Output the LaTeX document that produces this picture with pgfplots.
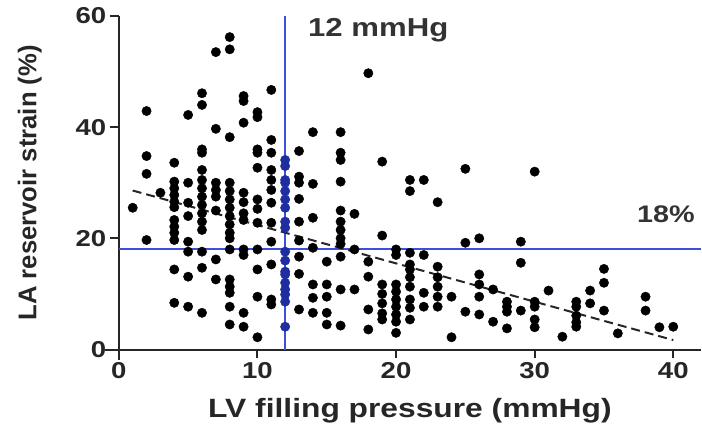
\documentclass[border=0pt]{standalone}
\usepackage{fontspec}
\setmainfont{Liberation Sans}[FakeStretch=1.2]
\newfontfamily\plainsans{Liberation Sans}
\usepackage{pgfplots}
\usepackage{pgfplotstable}
\pgfplotsset{compat=1.18}
\definecolor{refblue}{RGB}{60,80,220}
\definecolor{dotblue}{RGB}{30,45,160}

% patients left and right of the 12 mmHg cut-off
\pgfplotstableread{
x y
1 25.5
2 42.9
2 34.8
2 31.6
2 19.7
3 28.2
4 33.6
4 30.2
4 29.0
4 27.8
4 26.6
4 25.6
4 23.3
4 22.1
4 21.0
4 19.7
4 14.4
4 8.4
5 42.2
5 30.0
5 26.4
5 24.0
5 19.4
5 17.6
5 13.1
5 7.7
6 46.1
6 44.0
6 36.0
6 35.4
6 32.3
6 30.5
6 29.0
6 27.5
6 26.0
6 24.5
6 23.0
6 21.5
6 17.6
6 14.7
6 6.6
7 53.5
7 39.7
7 30.0
7 28.7
7 27.5
7 25.0
7 16.2
7 12.6
8 56.2
8 54.0
8 38.2
8 30.0
8 28.5
8 27.0
8 25.5
8 24.0
8 22.5
8 21.0
8 20.0
8 18.0
8 12.6
8 11.3
8 10.2
8 7.7
8 4.5
9 45.6
9 44.7
9 40.8
9 28.2
9 26.5
9 24.5
9 23.3
9 18.0
9 17.0
9 6.6
9 4.1
10 42.7
10 41.8
10 36.0
10 35.4
10 32.7
10 27.0
10 25.3
10 22.8
10 18.0
10 14.4
10 9.5
10 2.2
11 46.7
11 37.7
11 35.4
11 32.3
11 30.5
11 28.7
11 26.4
11 22.8
11 19.4
11 15.3
11 9.0
11 8.1
13 35.7
13 31.1
13 30.0
13 27.1
13 23.0
13 19.6
13 16.7
13 13.6
13 7.2
14 39.1
14 29.8
14 23.7
14 18.3
14 11.7
14 9.3
14 6.6
15 15.8
15 11.7
15 9.5
15 6.6
15 4.5
16 39.1
16 35.4
16 34.1
16 30.2
16 25.0
16 23.0
16 21.5
16 20.0
16 19.0
16 16.7
16 10.8
16 4.3
17 24.4
17 18.0
17 10.8
18 49.7
18 15.8
18 13.1
18 7.2
18 3.6
19 33.8
19 20.5
19 11.7
19 10.0
19 8.3
19 6.5
19 5.4
20 18.0
20 17.0
20 11.7
20 10.4
20 9.0
20 7.7
20 6.3
20 5.0
20 3.0
21 30.5
21 28.5
21 17.4
21 15.3
21 14.4
21 13.0
21 11.3
21 9.0
21 7.5
21 5.4
22 30.5
22 17.0
22 10.2
22 7.7
23 26.5
23 14.9
23 13.0
23 11.3
23 9.5
23 7.7
24 9.5
24 2.2
25 32.5
25 19.2
25 6.8
26 20.0
26 13.5
26 11.7
26 9.5
26 6.3
27 10.8
27 5.0
28 8.6
28 7.7
28 6.8
28 3.8
29 19.4
29 15.6
29 7.0
30 32.0
30 8.6
30 7.7
30 5.4
30 4.0
31 10.6
32 2.3
33 8.6
33 7.7
33 6.1
33 4.9
33 4.1
34 10.6
34 8.3
35 14.5
35 12.0
35 7.0
36 2.9
38 9.5
38 7.0
39 4.0
40 4.1
}\blackpts

% patients exactly at 12 mmHg
\pgfplotstableread{
x y
12 34.1
12 33.0
12 30.5
12 30.0
12 28.5
12 27.0
12 25.5
12 23.0
12 21.9
12 17.6
12 16.0
12 14.0
12 13.5
12 12.0
12 10.8
12 9.9
12 8.6
12 4.1
}\bluepts

\begin{document}
\begin{tikzpicture}
\begin{axis}[
    scale only axis,
    width=583pt, height=334pt,
    xmin=0, xmax=42, ymin=0, ymax=60,
    axis x line*=bottom, axis y line*=left,
    axis line style={line width=2pt, black!85},
    xtick={0,10,20,30,40}, ytick={0,20,40,60},
    tick align=outside, major tick length=9pt,
    tick style={line width=2pt, black!85},
    /pgf/number format/assume math mode=true,
    ticklabel style={font=\bfseries\fontsize{23}{23}\selectfont, text=black!85},
    xlabel={LV filling pressure (mmHg)},
    ylabel={LA reservoir strain (\%)},
    xlabel style={font=\bfseries\fontsize{26.5}{27}\selectfont, text=black!85,
        at={(axis description cs:0.5,-0.183)}, anchor=center},
    ylabel style={font=\plainsans\bfseries\fontsize{25.7}{26}\selectfont, text=black!85,
        at={(axis description cs:-0.153,0.5)}, anchor=center},
    clip=false,
]
\coordinate (O) at (axis cs:0,0);
% small overhang of the spines past the origin
\draw[line width=2pt, black!85] (axis cs:-1,0) -- (axis cs:0,0);
\draw[line width=2pt, black!85] (axis cs:0,-1.8) -- (axis cs:0,0);

\addplot[only marks, mark=*, mark size=4.7pt, black] table {\blackpts};
\addplot[only marks, mark=*, mark size=4.7pt, dotblue] table {\bluepts};

% cut-offs
\addplot[refblue, line width=2pt] coordinates {(12,0) (12,60)};
\addplot[refblue, line width=2pt] coordinates {(0,18) (42,18)};

% regression
\addplot[black!85, line width=2pt, dash pattern=on 9pt off 5pt] coordinates {(1,28.6) (40,1.7)};

\node[anchor=west, font=\bfseries\fontsize{26}{26}\selectfont, text=black!80] at (axis cs:13.4,57.5) {12 mmHg};
\node[anchor=east, font=\bfseries\fontsize{24}{24}\selectfont, text=black!80] at (axis cs:41.8,24.3) {18\%};
\end{axis}
\path (O) ++(-119pt,-83pt) rectangle ++(702pt,433pt);
\end{tikzpicture}
\end{document}
